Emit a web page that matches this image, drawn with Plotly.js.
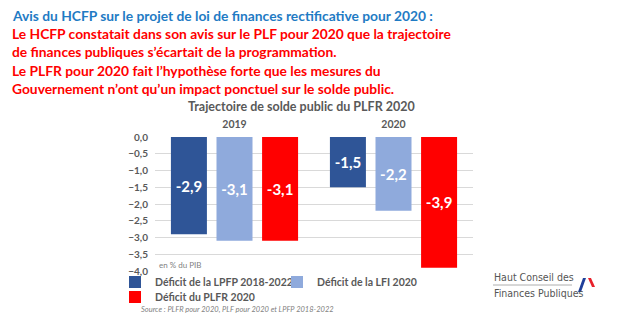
<!DOCTYPE html>
<html>
<head>
<meta charset="utf-8">
<script src="https://cdn.plot.ly/plotly-3.0.1.min.js"></script>
<style>html,body{margin:0;padding:0;background:#fff;}#chart{width:640px;height:326px;}</style>
</head>
<body>
<div id="chart"></div>
<script>
const categories = ['2019', '2020'];
const seriesNames = ['Déficit de la LPFP 2018-2022', 'Déficit de la LFI 2020', 'Déficit du PLFR 2020'];
const lpfp = [-2.9, -1.5];
const lfi = [-3.1, -2.2];
const plfr = [-3.1, -3.9];
const colors = ['#2F5597', '#8FAADC', '#FF0000'];
const headerBlue = 'Avis du HCFP sur le projet de loi de finances rectificative pour 2020 :';
const headerRed = [
  'Le HCFP constatait dans son avis sur le PLF pour 2020 que la trajectoire',
  'de finances publiques s\u2019écartait de la programmation.',
  'Le PLFR pour 2020 fait l\u2019hypothèse forte que les mesures du',
  'Gouvernement n\u2019ont qu\u2019un impact ponctuel sur le solde public.'
];
const chartTitle = 'Trajectoire de solde public du PLFR 2020';
const unitNote = 'en % du PIB';
const sourceNote = 'Source : PLFR pour 2020, PLF pour 2020 et LPFP 2018-2022';
const logoLines = ['Haut Conseil des', 'Finances Publiques'];

const L = 155, R = 473, T = 137, B = 271, W = 640, H = 326;
const px = x => (x - L) / (R - L);
const py = y => (B - y) / (B - T);

const font = 'Lato, "Open Sans", sans-serif';
const condensed = '"DejaVu Sans Condensed", sans-serif';
const gray = '#595959';

const seriesValues = [lpfp, lfi, plfr];
const legendIds = ['legend', 'legend', 'legend2'];
const traces = seriesNames.map((n, i) => ({
  type: 'bar', name: n, x: categories, y: seriesValues[i],
  marker: {color: colors[i]}, legend: legendIds[i],
  texttemplate: '%{y:.1f}', textposition: 'inside', insidetextanchor: 'middle',
  textfont: {color: '#ffffff', size: 15, family: font, weight: 'bold'}, textangle: 0,
  hoverinfo: 'skip'
}));

const headerFont = c => ({family: font, size: 13.8, color: c, weight: 'bold'});
const annotations = [];
annotations.push({xref: 'paper', yref: 'paper', x: px(10), y: py(15), xanchor: 'left', yanchor: 'middle',
  text: headerBlue, showarrow: false, font: headerFont('#1F7BC4')});
headerRed.forEach((t, i) => annotations.push({xref: 'paper', yref: 'paper', x: px(10), y: py(33.5 + i * 18.4),
  xanchor: 'left', yanchor: 'middle', text: t, showarrow: false, font: headerFont('#FF0000')}));
annotations.push({xref: 'paper', yref: 'paper', x: px(301), y: py(106), xanchor: 'center', yanchor: 'middle',
  text: chartTitle, showarrow: false, font: {family: font, size: 12.5, color: gray, weight: 'bold'}});
annotations.push({xref: 'paper', yref: 'paper', x: px(157), y: py(265), xanchor: 'left', yanchor: 'middle',
  text: unitNote, showarrow: false, font: {family: font, size: 8, color: '#7F7F7F'}});
annotations.push({xref: 'paper', yref: 'paper', x: px(139), y: py(309), xanchor: 'left', yanchor: 'middle',
  text: '<i>' + sourceNote + '</i>', showarrow: false, font: {family: font, size: 7.5, color: '#7F7F7F'}});
logoLines.forEach((t, i) => annotations.push({xref: 'paper', yref: 'paper', x: px(492), y: py(277 + i * 16),
  xanchor: 'left', yanchor: 'middle', text: t, showarrow: false,
  font: {family: condensed, size: 10.5, color: '#555555'}}));

const shapes = [
  {type: 'line', xref: 'paper', yref: 'paper', x0: px(493), x1: px(572), y0: py(285), y1: py(285), line: {color: '#9a9a9a', width: 0.8}},
  {type: 'path', xref: 'paper', yref: 'paper', path: `M ${px(578)} ${py(292)} L ${px(581)} ${py(292)} L ${px(586)} ${py(278)} L ${px(583)} ${py(278)} Z`, fillcolor: '#1F3F9A', line: {width: 0}},
  {type: 'path', xref: 'paper', yref: 'paper', path: `M ${px(588)} ${py(278)} L ${px(591)} ${py(278)} L ${px(595)} ${py(287)} L ${px(592)} ${py(287)} Z`, fillcolor: '#E8202A', line: {width: 0}}
];

const legendFont = {family: font, size: 10.5, color: gray, weight: 'bold'};
const layout = {
  width: W, height: H, paper_bgcolor: '#ffffff', plot_bgcolor: '#ffffff',
  margin: {l: L, r: W - R, t: T, b: H - B, pad: 0},
  separators: ',.',
  barmode: 'group', bargap: 0.14, bargroupgap: 0.21,
  showlegend: true,
  legend: {orientation: 'h', x: px(115), y: py(282), xanchor: 'left', yanchor: 'middle',
    bgcolor: 'rgba(0,0,0,0)', font: legendFont, entrywidth: 117, itemwidth: 30, traceorder: 'normal',
    itemclick: false, itemdoubleclick: false},
  legend2: {orientation: 'h', x: px(115), y: py(297), xanchor: 'left', yanchor: 'middle',
    bgcolor: 'rgba(0,0,0,0)', font: legendFont, itemwidth: 30, itemclick: false, itemdoubleclick: false},
  xaxis: {side: 'top', type: 'category', showgrid: false, zeroline: false, showline: false, ticks: '',
    ticklabelstandoff: 6, tickfont: {family: font, size: 10.5, color: gray, weight: 'bold'}, fixedrange: true},
  yaxis: {range: [-4, 0], dtick: 0.5, tickformat: '.1f', showgrid: true, gridcolor: '#D9D9D9', gridwidth: 1,
    zeroline: false, showline: false, ticks: '', ticklabelstandoff: 6,
    tickfont: {family: font, size: 10, color: gray, weight: 'bold'}, fixedrange: true},
  annotations: annotations, shapes: shapes,
  font: {family: font}
};

Plotly.newPlot('chart', traces, layout, {displayModeBar: false, staticPlot: true});
</script>
</body>
</html>
